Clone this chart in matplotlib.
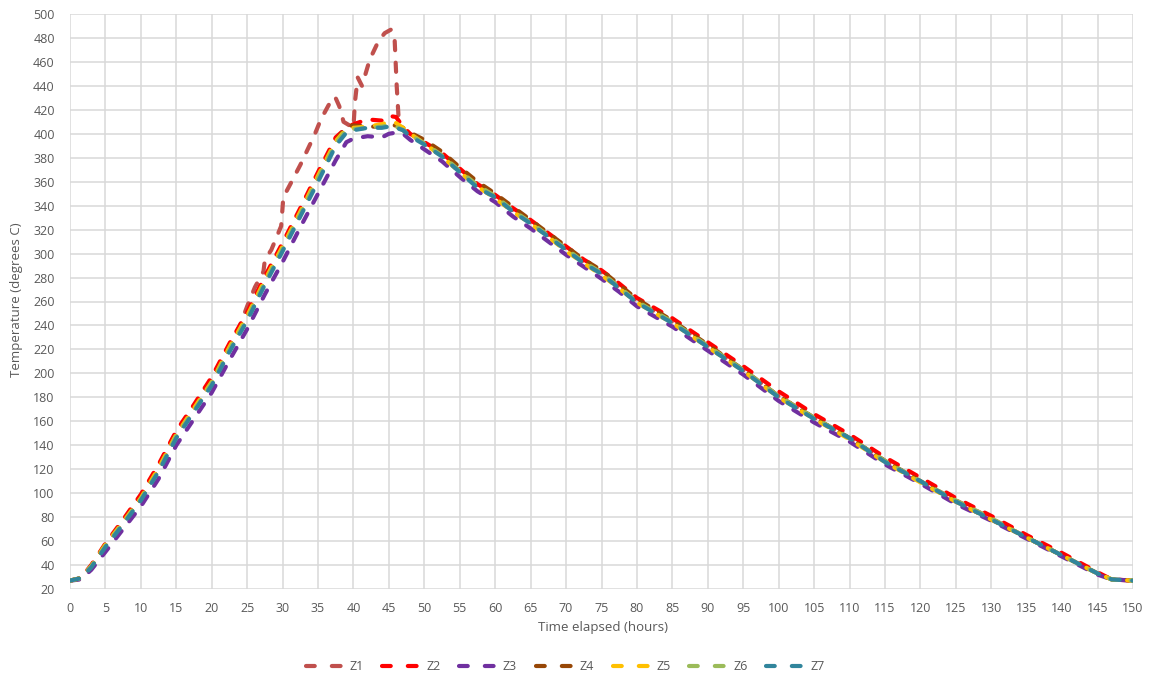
import matplotlib.pyplot as plt
from matplotlib.lines import Line2D

# Time axis (hours) shared by zones Z2..Z7
TIME = [0, 1.5, 3, 5, 7.5, 10, 12.5, 15, 17.5, 20, 22.5, 25, 27.5, 30, 32.5, 35,
        37.5, 39, 40, 42, 44, 45, 46, 47, 48, 50, 52.5, 55, 57.5, 60, 62.5, 65,
        67.5, 70, 72.5, 75, 77.5, 80, 85, 90, 95, 100, 105, 110, 115, 120, 125,
        130, 135, 140, 145, 147, 150]

# Zone 1 overshoots, so it is logged on its own time base
Z1_TIME = [0, 1.5, 3, 5, 7.5, 10, 12.5, 15, 17.5, 20, 22.5, 24, 25, 26.1, 27.3,
           27.5, 28.4, 29.8, 30.1, 31, 32.5, 33.3, 34.5, 35.4, 36.5, 37.4, 38,
           38.6, 40, 40.2, 40.6, 41.2, 42.3, 43.5, 44.4, 45.3, 45.8, 46.1, 46.4,
           47, 48, 50, 52.5, 55, 57.5, 60, 62.5, 65, 67.5, 70, 72.5, 75, 77.5,
           80, 85, 90, 95, 100, 105, 110, 115, 120, 125, 130, 135, 140, 145,
           147, 150]

Z1 = [27, 29, 39, 56, 75, 96, 120, 149, 171, 195, 222, 240, 256, 272, 285, 295,
      303, 323, 347, 357, 374, 384, 399, 412, 424, 431, 423, 410, 405, 426, 447,
      440, 462, 477, 484, 487, 480, 440, 410, 403, 399, 392, 382, 369, 357, 347,
      336, 326, 315, 304, 293, 284, 272, 260, 243, 223, 203, 181, 163, 146, 127,
      110, 94, 79, 63, 48, 33, 28, 27]

Z2 = [27, 29, 40, 58, 78, 99, 124, 152, 174, 197, 225, 251, 281, 309, 338, 368,
      397, 405, 408, 412, 411, 415, 414, 406, 400, 393, 384, 371, 358, 349, 338,
      328, 317, 306, 295, 286, 275, 263, 246, 226, 206, 185, 166, 149, 130, 113,
      96, 81, 65, 50, 34, 28, 27]

Z3 = [27, 28, 36, 51, 70, 89, 112, 140, 162, 184, 211, 237, 266, 293, 322, 350,
      378, 393, 396, 398, 397, 400, 401, 400, 395, 387, 377, 364, 352, 343, 331,
      321, 310, 299, 289, 279, 268, 256, 239, 219, 199, 177, 159, 143, 124, 108,
      91, 77, 62, 47, 32, 28, 27]

Z4 = [27, 29, 39, 57, 76, 96, 120, 149, 170, 193, 221, 247, 277, 305, 334, 364,
      394, 406, 407, 406, 406, 407, 407, 405, 401, 395, 385, 372, 360, 350, 339,
      328, 317, 306, 295, 286, 274, 262, 244, 224, 203, 181, 163, 146, 127, 110,
      93, 78, 63, 48, 33, 28, 27]

Z5 = [27, 29, 39, 57, 76, 96, 121, 149, 171, 193, 222, 248, 278, 306, 335, 365,
      394, 404, 405, 406, 408, 410, 409, 405, 400, 392, 381, 368, 356, 346, 335,
      325, 314, 302, 292, 282, 271, 259, 242, 222, 202, 180, 162, 145, 126, 109,
      93, 78, 63, 48, 33, 28, 27]

Z6 = [27, 29, 39, 56, 75, 95, 119, 148, 169, 192, 220, 246, 276, 304, 333, 363,
      392, 403, 404, 405, 406, 407, 406, 403, 399, 392, 382, 369, 357, 348, 336,
      326, 315, 304, 293, 284, 272, 260, 243, 223, 203, 181, 163, 146, 127, 110,
      94, 79, 63, 48, 33, 28, 27]

Z7 = [27, 29, 38, 55, 74, 94, 118, 146, 168, 190, 218, 244, 274, 302, 331, 360,
      390, 401, 403, 405, 405, 406, 405, 403, 398, 391, 381, 368, 355, 347, 335,
      325, 314, 303, 292, 283, 271, 259, 242, 222, 202, 180, 162, 146, 126, 110,
      93, 78, 63, 48, 33, 28, 27]

LABELS = ["Z1", "Z2", "Z3", "Z4", "Z5", "Z6", "Z7"]
COLORS = ["#C0504D", "#FF0000", "#7030A0", "#974706", "#FFC000", "#9BBB59", "#31859C"]

TEXT_GREY = "#595959"
GRID_GREY = "#D9D9D9"

plt.rcParams['font.family'] = ['Open Sans', 'DejaVu Sans']

fig = plt.figure(figsize=(11.51, 6.77), dpi=100)
ax = fig.add_axes([70 / 1151, 88 / 677, 1063 / 1151, 575 / 677])

series = [(Z1_TIME, Z1), (TIME, Z2), (TIME, Z3), (TIME, Z4),
          (TIME, Z5), (TIME, Z6), (TIME, Z7)]
for (t, vals), label, color in zip(series, LABELS, COLORS):
    ax.plot(t, vals, color=color, lw=3, dashes=(2.2, 3.0),
            dash_capstyle='round', solid_joinstyle='round', label=label)

ax.set_xlim(0, 150)
ax.set_ylim(20, 500)
ax.set_xticks(range(0, 151, 5))
ax.set_yticks(range(20, 501, 20))
ax.grid(True, color=GRID_GREY, lw=1.1)
ax.set_axisbelow(True)
for side in ax.spines.values():
    side.set_visible(False)
ax.tick_params(length=0, labelsize=9, labelcolor=TEXT_GREY)
ax.tick_params(axis='x', pad=9)
ax.tick_params(axis='y', pad=11)

fig.text(603 / 1151, 1 - 628 / 677, "Time elapsed (hours)", ha='center',
         va='center', fontsize=9.5, color=TEXT_GREY)
fig.text(17 / 1151, 1 - 300 / 677, "Temperature (degrees C)", ha='center',
         va='center', rotation=90, fontsize=9.5, color=TEXT_GREY)

# legend swatches show two dashes each
handles = [Line2D([], [], color=c, lw=3, dashes=(2.1, 4.1), dash_capstyle='round')
           for c in COLORS]
fig.legend(handles, LABELS, loc='center', bbox_to_anchor=(565 / 1151, 10 / 677),
           ncol=7, frameon=False, fontsize=9, labelcolor=TEXT_GREY,
           handlelength=3.1, handletextpad=0.4, columnspacing=1.5)

fig.savefig("out.png", dpi=100)
